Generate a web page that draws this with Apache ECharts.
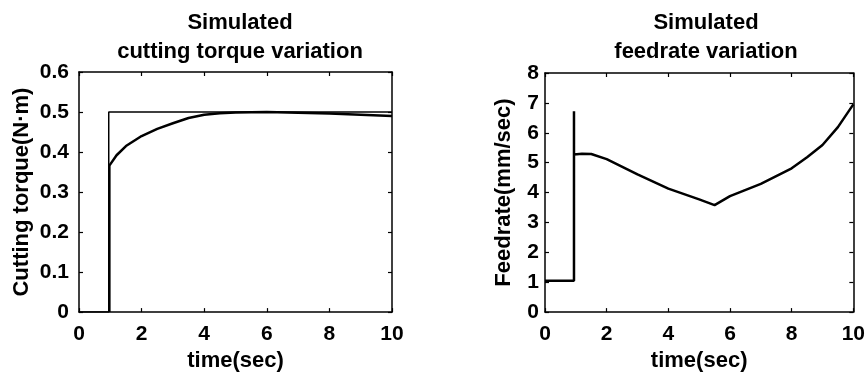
<!DOCTYPE html>
<html>
<head>
<meta charset="utf-8">
<script src="https://cdn.jsdelivr.net/npm/echarts@6/dist/echarts.min.js"></script>
<style>
html,body{margin:0;padding:0;background:#fff;}
#main{width:868px;height:377px;}
</style>
</head>
<body>
<div id="main"></div>
<script>
// torque: reference step + simulated response
var stepX = [0, 0.95, 0.95, 10];
var stepY = [0, 0, 0.5, 0.5];
var torqueX = [0.97, 0.97, 1.2, 1.5, 2, 2.5, 3, 3.5, 4, 4.5, 5, 6, 7, 8, 9, 10];
var torqueY = [0, 0.366, 0.392, 0.415, 0.44, 0.458, 0.472, 0.485, 0.493, 0.497, 0.499, 0.5, 0.498, 0.496, 0.493, 0.49];
// feedrate
var feedX = [0, 0.94, 0.94, 0.94, 1.0, 1.2, 1.5, 2, 3, 4, 5, 5.5, 6, 7, 8, 8.5, 9, 9.5, 10];
var feedY = [1.05, 1.05, 6.72, 5.27, 5.29, 5.3, 5.29, 5.12, 4.61, 4.13, 3.77, 3.58, 3.88, 4.29, 4.81, 5.18, 5.59, 6.19, 6.95];

function pairs(xs, ys){
    var out = [];
    for (var i = 0; i < xs.length; i++) {
        out.push([xs[i], ys[i]]);
    }
    return out;
}

var font = 'Liberation Sans';
var nameStyle = {color:'#000', fontFamily:font, fontWeight:'bold', fontSize:22};
var axLine = {show:true, onZero:false, lineStyle:{color:'#000', width:1.5}};
var tick = {show:true, inside:true, length:4, lineStyle:{color:'#000', width:1.2}};

function xAx(grid, pos, show){
    return {
        type:'value', gridIndex:grid, position:pos, min:0, max:10, interval:2,
        axisLine:axLine, axisTick:tick, splitLine:{show:false},
        axisLabel:show ? {show:true, margin:12, color:'#000', fontFamily:font, fontWeight:'bold', fontSize:21} : {show:false},
        name:show ? 'time(sec)' : '', nameLocation:'middle', nameGap:35, nameTextStyle:nameStyle
    };
}
function yAx(grid, pos, show, min, max, step, fmt, name, gap, margin){
    return {
        type:'value', gridIndex:grid, position:pos, min:min, max:max, interval:step,
        axisLine:axLine, axisTick:tick, splitLine:{show:false},
        axisLabel:show ? {show:true, margin:margin, color:'#000', fontFamily:font, fontWeight:'bold', fontSize:21, formatter:fmt} : {show:false},
        name:show ? name : '', nameLocation:'middle', nameGap:gap, nameTextStyle:nameStyle
    };
}

var myChart = echarts.init(document.getElementById('main'));
var option = {
    backgroundColor:'#fff',
    animation:false,
    title:[{
        text:'Simulated\ncutting torque variation', left:235, top:3, textAlign:'center',
        textStyle:{color:'#000', fontFamily:font, fontWeight:'bold', fontSize:22, lineHeight:29}
    },{
        text:'Simulated\nfeedrate variation', left:701, top:3, textAlign:'center',
        textStyle:{color:'#000', fontFamily:font, fontWeight:'bold', fontSize:22, lineHeight:29}
    }],
    grid:[
        {left:79, top:72, width:313, height:245},
        {left:545, top:73, width:312, height:245}
    ],
    xAxis:[
        xAx(0, 'bottom', true), xAx(0, 'top', false),
        xAx(1, 'bottom', true), xAx(1, 'top', false)
    ],
    yAxis:[
        yAx(0, 'left', true, 0, 0.6, 0.1, function(v){ return v === 0 ? '0' : v.toFixed(1); }, 'Cutting torque(N\u00b7m)', 46, 10),
        yAx(0, 'right', false, 0, 0.6, 0.1),
        yAx(1, 'left', true, 0, 8, 1, function(v){ return String(v); }, 'Feedrate(mm/sec)', 30, 6),
        yAx(1, 'right', false, 0, 8, 1)
    ],
    series:[
        {type:'line', xAxisIndex:0, yAxisIndex:0, data:pairs(stepX, stepY), showSymbol:false,
         lineStyle:{color:'#000', width:1.5}},
        {type:'line', xAxisIndex:0, yAxisIndex:0, data:pairs(torqueX, torqueY), showSymbol:false,
         lineStyle:{color:'#000', width:2.5}},
        {type:'line', xAxisIndex:2, yAxisIndex:2, data:pairs(feedX, feedY), showSymbol:false,
         lineStyle:{color:'#000', width:2.5}}
    ]
};
myChart.setOption(option);
</script>
</body>
</html>
